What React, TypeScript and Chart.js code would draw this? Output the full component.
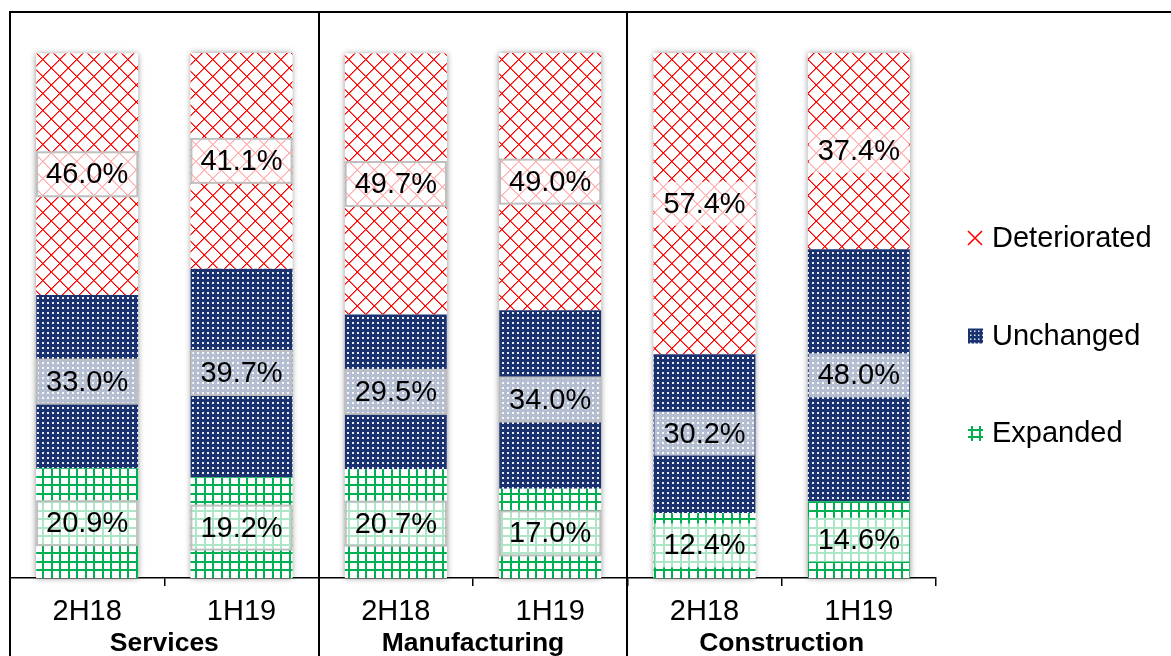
import React, { useEffect, useRef } from 'react';
import { Chart, registerables } from 'chart.js';

Chart.register(...registerables);

// ---- data ----
const categories = ['2H18', '1H19', '2H18', '1H19', '2H18', '1H19'];
const groups = ['Services', 'Manufacturing', 'Construction'];
const seriesNames = ['Expanded', 'Unchanged', 'Deteriorated'];
const expanded = [20.9, 19.2, 20.7, 17.0, 12.4, 14.6];
const unchanged = [33.0, 39.7, 29.5, 34.0, 30.2, 48.0];
const deteriorated = [46.0, 41.1, 49.7, 49.0, 57.4, 37.4];

// ---- styles ----
const FONT = "'Liberation Sans', Arial, Helvetica, sans-serif";
const RED = '#ff0000';
const NAVY = '#1a326f';
const GREEN = '#00b050';
const FRAME_TOP = 12;
const BORDERED_LABEL_CATEGORIES = [true, true, true, true, false, false];

function makeTile(size: number, draw: (g: CanvasRenderingContext2D) => void) {
  const c = document.createElement('canvas');
  c.width = size;
  c.height = size;
  const g = c.getContext('2d')!;
  draw(g);
  return c;
}

function makePatterns(ctx: CanvasRenderingContext2D) {
  const red = makeTile(17, (g) => {
    g.fillStyle = '#ffffff';
    g.fillRect(0, 0, 17, 17);
    for (let i = 0; i < 17; i++) {
      g.fillStyle = 'rgba(255,0,0,0.6)';
      g.fillRect((i + 1) % 17, i, 1, 1);
      g.fillRect((i + 1) % 17, 16 - i, 1, 1);
      g.fillStyle = RED;
      g.fillRect(i, i, 1, 1);
      g.fillRect(i, 16 - i, 1, 1);
    }
  });
  const navy = makeTile(5, (g) => {
    g.fillStyle = NAVY;
    g.fillRect(0, 0, 5, 5);
    g.fillStyle = 'rgba(255,255,255,0.9)';
    g.fillRect(2, 2, 2, 2);
  });
  const green = makeTile(17, (g) => {
    g.fillStyle = '#ffffff';
    g.fillRect(0, 0, 17, 17);
    g.fillStyle = GREEN;
    g.fillRect(0, 0, 2, 17);
    g.fillRect(8, 0, 2, 17);
    g.fillRect(0, 0, 17, 2);
    g.fillRect(0, 8, 17, 2);
  });
  return {
    red: ctx.createPattern(red, 'repeat')!,
    navy: ctx.createPattern(navy, 'repeat')!,
    green: ctx.createPattern(green, 'repeat')!,
  };
}

const shadowPlugin = {
  id: 'barShadow',
  beforeDatasetsDraw(chart: any) {
    const ctx = chart.ctx as CanvasRenderingContext2D;
    const n = chart.data.datasets.length;
    const m0 = chart.getDatasetMeta(0);
    const mt = chart.getDatasetMeta(n - 1);
    ctx.save();
    ctx.shadowColor = 'rgba(0,0,0,0.45)';
    ctx.shadowBlur = 6;
    ctx.fillStyle = '#ffffff';
    m0.data.forEach((el: any, i: number) => {
      const top = mt.data[i] as any;
      const w = el.width;
      ctx.fillRect(el.x - w / 2, top.y, w, el.base - top.y);
    });
    ctx.restore();
  },
};

const labelPlugin = {
  id: 'segLabels',
  afterDatasetsDraw(chart: any) {
    const ctx = chart.ctx as CanvasRenderingContext2D;
    ctx.save();
    ctx.font = `29px ${FONT}`;
    ctx.textAlign = 'center';
    ctx.textBaseline = 'middle';
    chart.data.datasets.forEach((ds: any, di: number) => {
      const meta = chart.getDatasetMeta(di);
      meta.data.forEach((el: any, i: number) => {
        const v = ds.data[i] as number;
        const txt = v.toFixed(1) + '%';
        const cy = (el.y + el.base) / 2;
        const tw = ctx.measureText(txt).width;
        const bw = tw + 18;
        const bh = 44;
        ctx.fillStyle = 'rgba(255,255,255,0.68)';
        ctx.fillRect(el.x - bw / 2, cy - bh / 2, bw, bh);
        if (BORDERED_LABEL_CATEGORIES[i]) {
          ctx.strokeStyle = '#bfbfbf';
          ctx.lineWidth = 2;
          ctx.strokeRect(el.x - bw / 2, cy - bh / 2, bw, bh);
        }
        ctx.fillStyle = '#000000';
        ctx.fillText(txt, el.x, cy + 1);
      });
    });
    ctx.restore();
  },
};

const framePlugin = {
  id: 'frame',
  afterDraw(chart: any) {
    const ctx = chart.ctx as CanvasRenderingContext2D;
    const xs = chart.scales.x;
    const H = chart.height;
    ctx.save();
    ctx.strokeStyle = '#000000';
    ctx.lineWidth = 2;
    const left = xs.getPixelForValue(-0.5);
    ctx.beginPath();
    ctx.moveTo(left - 1, FRAME_TOP);
    ctx.lineTo(chart.width, FRAME_TOP);
    ctx.stroke();
    for (let g = 0; g < groups.length; g++) {
      const x = Math.round(xs.getPixelForValue(g * 2 - 0.5));
      ctx.beginPath();
      ctx.moveTo(x, FRAME_TOP);
      ctx.lineTo(x, H);
      ctx.stroke();
    }
    ctx.restore();
  },
};

const legendPlugin = {
  id: 'customLegend',
  afterDraw(chart: any) {
    const ctx = chart.ctx as CanvasRenderingContext2D;
    const area = chart.chartArea;
    const mid = (area.top + area.bottom) / 2 + 20;
    const mx = area.right + 32;
    const order = [2, 1, 0];
    ctx.save();
    ctx.font = `29px ${FONT}`;
    ctx.textAlign = 'left';
    ctx.textBaseline = 'middle';
    order.forEach((di, k) => {
      const cy = mid + (k - 1) * 97.5;
      const name = chart.data.datasets[di].label;
      if (di === 2) {
        ctx.strokeStyle = RED;
        ctx.lineWidth = 1.6;
        ctx.beginPath();
        ctx.moveTo(mx, cy - 7);
        ctx.lineTo(mx + 14, cy + 7);
        ctx.moveTo(mx + 14, cy - 7);
        ctx.lineTo(mx, cy + 7);
        ctx.stroke();
      } else if (di === 1) {
        ctx.fillStyle = NAVY;
        ctx.fillRect(mx, cy - 7, 15, 15);
        ctx.fillStyle = 'rgba(255,255,255,0.85)';
        for (let a = 2; a < 15; a += 4) {
          for (let b = 2; b < 15; b += 4) {
            ctx.fillRect(mx + a, cy - 7 + b, 1.5, 1.5);
          }
        }
      } else {
        ctx.fillStyle = GREEN;
        ctx.fillRect(mx + 3, cy - 7, 2, 15);
        ctx.fillRect(mx + 11, cy - 7, 2, 15);
        ctx.fillRect(mx, cy - 4, 15, 2);
        ctx.fillRect(mx, cy + 3, 15, 2);
      }
      ctx.fillStyle = '#000000';
      ctx.fillText(name, mx + 24, cy + 1);
    });
    ctx.restore();
  },
};

export default function App() {
  const ref = useRef<HTMLCanvasElement>(null);

  useEffect(() => {
    const canvas = ref.current!;
    const ctx = canvas.getContext('2d')!;
    const p = makePatterns(ctx);
    Chart.defaults.font.family = FONT;
    Chart.defaults.color = '#000000';

    const chart = new Chart(canvas, {
      type: 'bar',
      data: {
        labels: categories,
        datasets: [
          { label: seriesNames[0], data: expanded, backgroundColor: p.green, borderWidth: 0 },
          { label: seriesNames[1], data: unchanged, backgroundColor: p.navy, borderWidth: 0 },
          { label: seriesNames[2], data: deteriorated, backgroundColor: p.red, borderWidth: 0 },
        ],
      },
      options: {
        responsive: false,
        animation: false,
        devicePixelRatio: 1,
        datasets: { bar: { categoryPercentage: 1, barPercentage: 0.66 } },
        layout: { padding: { left: 10, right: 235, top: 53, bottom: 0 } },
        plugins: { legend: { display: false }, tooltip: { enabled: false }, title: { display: false } },
        scales: {
          x: {
            stacked: true,
            offset: true,
            weight: 0,
            grid: {
              display: true,
              drawOnChartArea: false,
              drawTicks: true,
              tickLength: 8,
              color: '#000000',
              lineWidth: 1.5,
              offset: true,
            },
            border: { display: true, color: '#000000', width: 1.5 },
            ticks: { color: '#000000', font: { size: 29, family: FONT }, padding: 9, maxRotation: 0, autoSkip: false },
            afterFit: (s: any) => {
              s.height = 42;
            },
          },
          x2: {
            type: 'category',
            labels: groups,
            position: 'bottom',
            offset: true,
            weight: 1,
            grid: { display: false },
            border: { display: false },
            ticks: {
              color: '#000000',
              font: { size: 26.5, weight: 'bold', family: FONT, lineHeight: 1 },
              padding: 2,
              maxRotation: 0,
              autoSkip: false,
            },
            afterFit: (s: any) => {
              s.height = 36;
            },
          },
          y: { stacked: true, min: 0, max: 100, display: false },
        },
      } as any,
      plugins: [shadowPlugin, labelPlugin, framePlugin, legendPlugin],
    });

    return () => chart.destroy();
  }, []);

  return (
    <div style={{ position: 'fixed', left: 0, top: 0, width: 1171, height: 656, background: '#ffffff' }}>
      <canvas ref={ref} width={1171} height={656} style={{ display: 'block', width: 1171, height: 656 }} />
    </div>
  );
}
